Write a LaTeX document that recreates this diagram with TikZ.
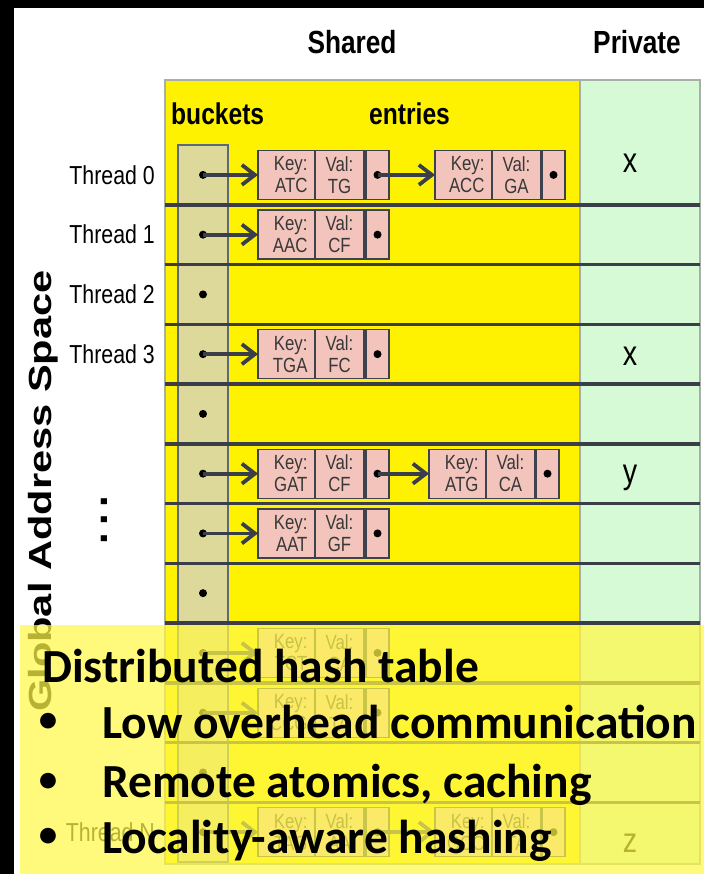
\documentclass[tikz,border=0pt]{standalone}
\usepackage{fontspec}
\setmainfont{Liberation Sans}
\newfontfamily\narrowsans[FakeStretch=0.82]{Liberation Sans}
\newfontfamily\widesans[FakeStretch=1.3]{Liberation Sans}
\newfontfamily\slidesans{Carlito}
\usetikzlibrary{arrows.meta,positioning}
\definecolor{bucketbeige}{RGB}{221,217,155}
\definecolor{bucketedge}{RGB}{92,106,120}
\definecolor{entrypink}{RGB}{242,196,188}
\definecolor{celledge}{RGB}{62,66,78}
\definecolor{rowgray}{RGB}{58,62,72}
\definecolor{privategreen}{RGB}{214,250,214}
\definecolor{areaedge}{RGB}{168,174,168}
\definecolor{calloutyellow}{RGB}{255,248,72}
\tikzset{
  shared area/.style={
    rectangle, draw=areaedge, line width=1.2pt, fill=yellow,
    minimum width=415pt, minimum height=784pt, inner sep=0pt, outer sep=0pt
  },
  private area/.style={
    rectangle, draw=areaedge, line width=1.2pt, fill=privategreen,
    minimum width=120pt, minimum height=784pt, inner sep=0pt, outer sep=0pt
  },
  area title/.style={font=\narrowsans\bfseries\fontsize{32}{38}\selectfont, inner sep=0pt},
  column title/.style={font=\narrowsans\bfseries\fontsize{30}{36}\selectfont, inner sep=0pt},
  thread label/.style={font=\narrowsans\fontsize{26}{30}\selectfont, inner sep=0pt},
  space label/.style={font=\widesans\bfseries\fontsize{32}{36}\selectfont, inner sep=0pt, rotate=90, anchor=base},
  bucket/.style={
    rectangle, draw=bucketedge, line width=1.6pt, fill=bucketbeige,
    minimum width=50pt, minimum height=59.75pt, inner sep=0pt, outer sep=0pt,
    path picture={\fill[black] (path picture bounding box.center) circle (4pt);}
  },
  key cell/.style={
    rectangle, draw=celledge, line width=1.3pt, fill=entrypink, text=black!78,
    font=\narrowsans\fontsize{20.5}{22}\selectfont, align=right,
    text width=42pt, inner xsep=7.5pt, inner ysep=1pt, minimum height=49pt, outer sep=0pt
  },
  val cell/.style={
    rectangle, draw=celledge, line width=1.3pt, fill=entrypink, text=black!78,
    font=\narrowsans\fontsize{20.5}{22}\selectfont, align=center,
    minimum width=49pt, inner sep=1pt, minimum height=49pt, outer sep=0pt
  },
  next cell/.style={
    rectangle, draw=celledge, line width=1.3pt, fill=entrypink,
    minimum width=23pt, minimum height=49pt, inner sep=0pt, outer sep=0pt,
    path picture={\fill[black] (path picture bounding box.center) circle (4pt);}
  },
  row line/.style={line width=3.5pt, rowgray},
  entry arrow/.style={-{Straight Barb[length=13pt, width=20pt]}, line width=3.8pt, rowgray},
  private value/.style={font=\narrowsans\fontsize{35}{40}\selectfont, inner sep=0pt, anchor=base},
  callout box/.style={
    rectangle, fill=calloutyellow, fill opacity=0.72, draw=none,
    minimum width=684pt, minimum height=249pt, inner sep=0pt, outer sep=0pt
  },
  slide text/.style={font=\slidesans\bfseries\fontsize{47.5}{56}\selectfont, inner sep=0pt, anchor=base west},
  slide bullet/.style={font=\slidesans\bfseries\fontsize{37}{40}\selectfont, inner sep=0pt, anchor=center}
}

\begin{document}
\begin{tikzpicture}[x=1pt, y=-1pt]
    \useasboundingbox (0,0) rectangle (704,874);
    % slide edge
    \fill[black] (0,0) rectangle (704,8);
    \fill[black] (0,0) rectangle (14,874);

    \node[shared area, anchor=north west] (shared) at (165,80) {};
    \node[private area, right=0pt of shared] (private) {};
    \node[area title] (sharedtitle) at (352,42) {Shared};
    \node[area title] (privatetitle) at (637,42) {Private};
    \node[column title, anchor=base west] (bucketstitle) at (171,125) {buckets};
    \node[column title, anchor=base west] (entriestitle) at (369,125) {entries};
    \node[space label] (addressspace) at (51,491) {Global Address Space};
    \node[font=\bfseries\fontsize{42}{42}\selectfont, inner sep=0pt, rotate=90, anchor=base] (moredots) at (107,520) {.\,.\,.};

    % buckets, one per thread
    \node[bucket] (b0) at (203,174.9) {};
    \node[bucket, below=0pt of b0] (b1) {};
    \node[bucket, below=0pt of b1] (b2) {};
    \node[bucket, below=0pt of b2] (b3) {};
    \node[bucket, below=0pt of b3] (b4) {};
    \node[bucket, below=0pt of b4] (b5) {};
    \node[bucket, below=0pt of b5] (b6) {};
    \node[bucket, below=0pt of b6] (b7) {};
    \node[bucket, below=0pt of b7] (b8) {};
    \node[bucket, below=0pt of b8] (b9) {};
    \node[bucket, below=0pt of b9] (b10) {};
    \node[bucket, below=0pt of b10] (b11) {};

    \node[thread label, left=23pt of b0] (t0) {Thread 0};
    \node[thread label, left=23pt of b1] (t1) {Thread 1};
    \node[thread label, left=23pt of b2] (t2) {Thread 2};
    \node[thread label, left=23pt of b3] (t3) {Thread 3};
    \node[thread label, left=23pt of b11] (tn) {Thread N};

    \draw[row line] (shared.west |- b0.south) -- (private.east |- b0.south);
    \draw[row line] (shared.west |- b1.south) -- (private.east |- b1.south);
    \draw[row line] (shared.west |- b2.south) -- (private.east |- b2.south);
    \draw[row line] (shared.west |- b3.south) -- (private.east |- b3.south);
    \draw[row line] (shared.west |- b4.south) -- (private.east |- b4.south);
    \draw[row line] (shared.west |- b5.south) -- (private.east |- b5.south);
    \draw[row line] (shared.west |- b6.south) -- (private.east |- b6.south);
    \draw[row line] (shared.west |- b7.south) -- (private.east |- b7.south);
    \draw[row line] (shared.west |- b8.south) -- (private.east |- b8.south);
    \draw[row line] (shared.west |- b9.south) -- (private.east |- b9.south);
    \draw[row line] (shared.west |- b10.south) -- (private.east |- b10.south);

    % entries
    \node[key cell, right=30pt of b0] (key0) {Key:\\ATC};
    \node[val cell, right=0pt of key0] (val0) {Val:\\TG};
    \node[next cell, right=2pt of val0] (next0) {};
    \node[key cell, right=46pt of next0] (key0b) {Key:\\ACC};
    \node[val cell, right=0pt of key0b] (val0b) {Val:\\GA};
    \node[next cell, right=1pt of val0b] (next0b) {};
    \node[key cell, right=30pt of b1] (key1) {Key:\\AAC};
    \node[val cell, right=0pt of key1] (val1) {Val:\\CF};
    \node[next cell, right=2pt of val1] (next1) {};
    \node[key cell, right=30pt of b3] (key3) {Key:\\TGA};
    \node[val cell, right=0pt of key3] (val3) {Val:\\FC};
    \node[next cell, right=2pt of val3] (next3) {};
    \node[key cell, right=30pt of b5] (key5) {Key:\\GAT};
    \node[val cell, right=0pt of key5] (val5) {Val:\\CF};
    \node[next cell, right=2pt of val5] (next5) {};
    \node[key cell, right=40pt of next5] (key5b) {Key:\\ATG};
    \node[val cell, right=0pt of key5b] (val5b) {Val:\\CA};
    \node[next cell, right=1pt of val5b] (next5b) {};
    \node[key cell, right=30pt of b6] (key6) {Key:\\AAT};
    \node[val cell, right=0pt of key6] (val6) {Val:\\GF};
    \node[next cell, right=2pt of val6] (next6) {};
    \node[key cell, right=30pt of b8] (key8) {Key:\\TCT};
    \node[val cell, right=0pt of key8] (val8) {Val:\\CA};
    \node[next cell, right=2pt of val8] (next8) {};
    \node[key cell, right=30pt of b9] (key9) {Key:\\CCG};
    \node[val cell, right=0pt of key9] (val9) {Val:\\TA};
    \node[next cell, right=2pt of val9] (next9) {};
    \node[key cell, right=30pt of b11] (key11) {Key:\\TAG};
    \node[val cell, right=0pt of key11] (val11) {Val:\\AA};
    \node[next cell, right=2pt of val11] (next11) {};
    \node[key cell, right=46pt of next11] (key11b) {Key:\\GCC};
    \node[val cell, right=0pt of key11b] (val11b) {Val:\\TA};
    \node[next cell, right=1pt of val11b] (next11b) {};

    \draw[entry arrow] (b0.center) -- (key0);
    \draw[entry arrow] (next0.center) -- (key0b);
    \draw[entry arrow] (b1.center) -- (key1);
    \draw[entry arrow] (b3.center) -- (key3);
    \draw[entry arrow] (b5.center) -- (key5);
    \draw[entry arrow] (next5.center) -- (key5b);
    \draw[entry arrow] (b6.center) -- (key6);
    \draw[entry arrow] (b8.center) -- (key8);
    \draw[entry arrow] (b9.center) -- (key9);
    \draw[entry arrow] (b11.center) -- (key11);
    \draw[entry arrow] (next11.center) -- (key11b);

    \node[private value] (priv0) at (630,173) {x};
    \node[private value] (priv3) at (630,365) {x};
    \node[private value] (priv5) at (630,483) {y};
    \node[private value] (priv11) at (630,852) {z};

    % summary on top
    \node[callout box, anchor=north west] (summary) at (20,625) {};
    \node[slide text] (dht) at (42,682) {Distributed hash table};
    \node[slide bullet] (bullet1) at (48,722) {\textbullet};
    \node[slide text] (lowoverhead) at (102,738) {Low overhead communication};
    \node[slide bullet] (bullet2) at (48,782) {\textbullet};
    \node[slide text] (atomics) at (102,797) {Remote atomics, caching};
    \node[slide bullet] (bullet3) at (48,837) {\textbullet};
    \node[slide text] (hashing) at (102,853) {Locality-aware hashing};
  \end{tikzpicture}
\end{document}
